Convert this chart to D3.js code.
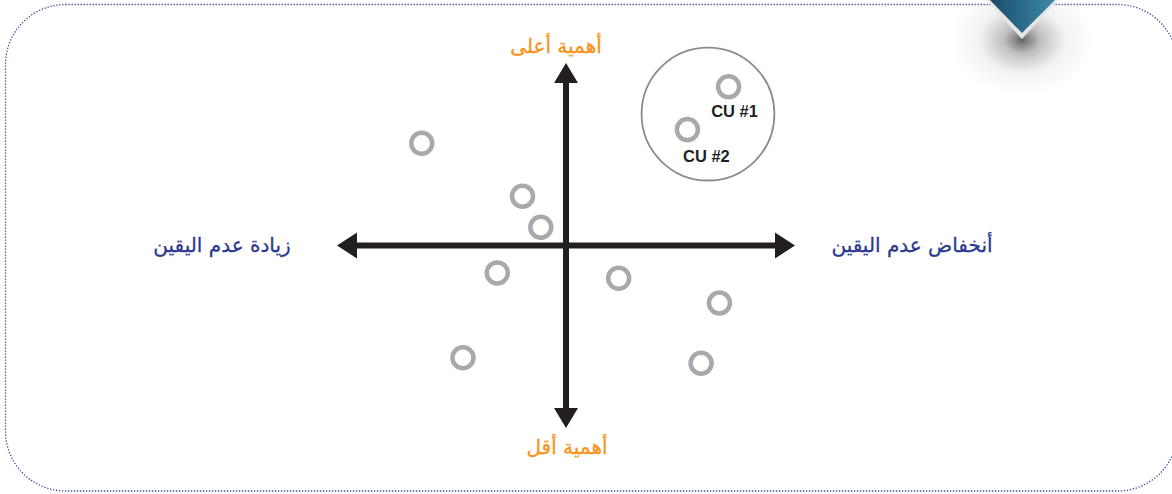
<!DOCTYPE html>
<html lang="ar">
<head>
<meta charset="utf-8">
<script src="https://cdn.jsdelivr.net/npm/d3@7"></script>
<style>
  body { margin: 0; background: #fff; }
  svg { display: block; }
  .lbl { font-family: "DejaVu Sans", sans-serif; }
</style>
</head>
<body>
<div id="chart"></div>
<script>
// positions of the items on the importance / uncertainty plane (-10..10 each way)
const itemX = [-6.3, -1.9, -1.1, -3.0, 2.3, 6.7, -4.5, 5.9];
const itemY = [5.6, 2.7, 1.0, -1.5, -1.8, -3.15, -6.15, -6.45];

// the two critical uncertainties inside the circle
const cuNames = ['CU #1', 'CU #2'];
const cuX = [7.1, 5.3];
const cuY = [8.7, 6.35];
const cuGroup = { x: 6.2, y: 7.2, r: 2.9 };

// axis titles
const axisTitles = {
  top: 'أهمية أعلى',
  bottom: 'أهمية أقل',
  left: 'زيادة عدم اليقين',
  right: 'أنخفاض عدم اليقين'
};

const width = 1172, height = 494;

const svg = d3.select('#chart')
  .append('svg')
  .attr('width', width)
  .attr('height', height);

// Scales
const x = d3.scaleLinear().domain([-10, 10]).range([337, 795]);
const y = d3.scaleLinear().domain([-10, 10]).range([428, 63]);

// dotted frame
svg.append('rect')
  .attr('x', 5.5).attr('y', 4.5)
  .attr('width', 1172).attr('height', 486.5)
  .attr('rx', 60).attr('ry', 60)
  .attr('fill', 'none')
  .attr('stroke', '#3a4a9a')
  .attr('stroke-width', 1.3)
  .attr('stroke-dasharray', '1.3 1.7');

// ribbon tab at the top with its shadow
const defs = svg.append('defs');
const shade = defs.append('radialGradient').attr('id', 'shade');
shade.append('stop').attr('offset', '0%').attr('stop-color', '#000').attr('stop-opacity', 0.6);
shade.append('stop').attr('offset', '25%').attr('stop-color', '#000').attr('stop-opacity', 0.25);
shade.append('stop').attr('offset', '60%').attr('stop-color', '#000').attr('stop-opacity', 0.05);
shade.append('stop').attr('offset', '100%').attr('stop-color', '#000').attr('stop-opacity', 0);
const ribbon = defs.append('linearGradient').attr('id', 'ribbon')
  .attr('x1', '0%').attr('x2', '100%').attr('y1', '0%').attr('y2', '0%');
ribbon.append('stop').attr('offset', '0%').attr('stop-color', '#1b4a6b');
ribbon.append('stop').attr('offset', '100%').attr('stop-color', '#3d8aa8');

svg.append('ellipse')
  .attr('cx', 1022).attr('cy', 40)
  .attr('rx', 72).attr('ry', 55)
  .attr('fill', 'url(#shade)');
svg.append('path')
  .attr('d', 'M986,0 L1058,0 L1022,39 Z')
  .attr('fill', '#e4e6e8');
svg.append('path')
  .attr('d', 'M990,0 L1055,0 L1022,33 Z')
  .attr('fill', 'url(#ribbon)');

// axes
const axisColor = '#231f20';
const head = 20, half = 12;
const x0 = x(0), y0 = y(0);
const [xl, xr] = x.range();
const [yb, yt] = y.range();

svg.append('line')
  .attr('x1', xl + head - 2).attr('x2', xr - head + 2)
  .attr('y1', y0).attr('y2', y0)
  .attr('stroke', axisColor).attr('stroke-width', 6);
svg.append('line')
  .attr('x1', x0).attr('x2', x0)
  .attr('y1', yt + head - 2).attr('y2', yb - head + 2)
  .attr('stroke', axisColor).attr('stroke-width', 6);

const heads = [
  [[xl, y0], [xl + head, y0 - half - 1], [xl + head, y0 + half + 1]],
  [[xr, y0], [xr - head, y0 - half - 1], [xr - head, y0 + half + 1]],
  [[x0, yt], [x0 - half, yt + head], [x0 + half, yt + head]],
  [[x0, yb], [x0 - half, yb - head], [x0 + half, yb - head]]
];
svg.selectAll('path.head')
  .data(heads)
  .enter()
  .append('path')
  .attr('class', 'head')
  .attr('d', d => 'M' + d.join('L') + 'Z')
  .attr('fill', axisColor);

// items
const ringColor = '#a7a9ac';
svg.selectAll('circle.item')
  .data(itemX.map((v, i) => ({ x: v, y: itemY[i] })))
  .enter()
  .append('circle')
  .attr('class', 'item')
  .attr('cx', d => x(d.x))
  .attr('cy', d => y(d.y))
  .attr('r', 10.5)
  .attr('fill', 'none')
  .attr('stroke', ringColor)
  .attr('stroke-width', 4.5);

// circle grouping the critical uncertainties
svg.append('circle')
  .attr('cx', x(cuGroup.x))
  .attr('cy', y(cuGroup.y))
  .attr('r', x(cuGroup.r) - x(0))
  .attr('fill', 'none')
  .attr('stroke', '#8a8c8e')
  .attr('stroke-width', 1.8);

const cu = cuNames.map((n, i) => ({ name: n, x: cuX[i], y: cuY[i] }));
svg.selectAll('circle.cu')
  .data(cu)
  .enter()
  .append('circle')
  .attr('class', 'cu')
  .attr('cx', d => x(d.x))
  .attr('cy', d => y(d.y))
  .attr('r', 10.5)
  .attr('fill', 'none')
  .attr('stroke', ringColor)
  .attr('stroke-width', 4.5);

// label offsets from their ring
const cuDx = [6, 19], cuDy = [30, 32];
svg.selectAll('text.cu')
  .data(cu)
  .enter()
  .append('text')
  .attr('class', 'cu')
  .attr('x', (d, i) => x(d.x) + cuDx[i])
  .attr('y', (d, i) => y(d.y) + cuDy[i])
  .attr('text-anchor', 'middle')
  .style('font-family', '"Liberation Sans", Arial, sans-serif')
  .style('font-weight', 'bold')
  .style('font-size', '16.5px')
  .attr('fill', '#231f20')
  .text(d => d.name);

// axis titles
const orange = '#f7941d', navy = '#2b3990';
const titles = [
  { t: axisTitles.top, x: x0 - 10, y: yt - 10, c: orange },
  { t: axisTitles.bottom, x: x0 + 1, y: yb + 26, c: orange },
  { t: axisTitles.left, x: 222, y: y0 + 6, c: navy },
  { t: axisTitles.right, x: 912, y: y0 + 6, c: navy }
];
svg.selectAll('text.lbl')
  .data(titles)
  .enter()
  .append('text')
  .attr('class', 'lbl')
  .attr('x', d => d.x)
  .attr('y', d => d.y)
  .attr('direction', 'rtl')
  .attr('text-anchor', 'middle')
  .style('font-size', '20px')
  .attr('fill', d => d.c)
  .attr('stroke', d => d.c)
  .attr('stroke-width', 0.3)
  .text(d => d.t);
</script>
</body>
</html>
